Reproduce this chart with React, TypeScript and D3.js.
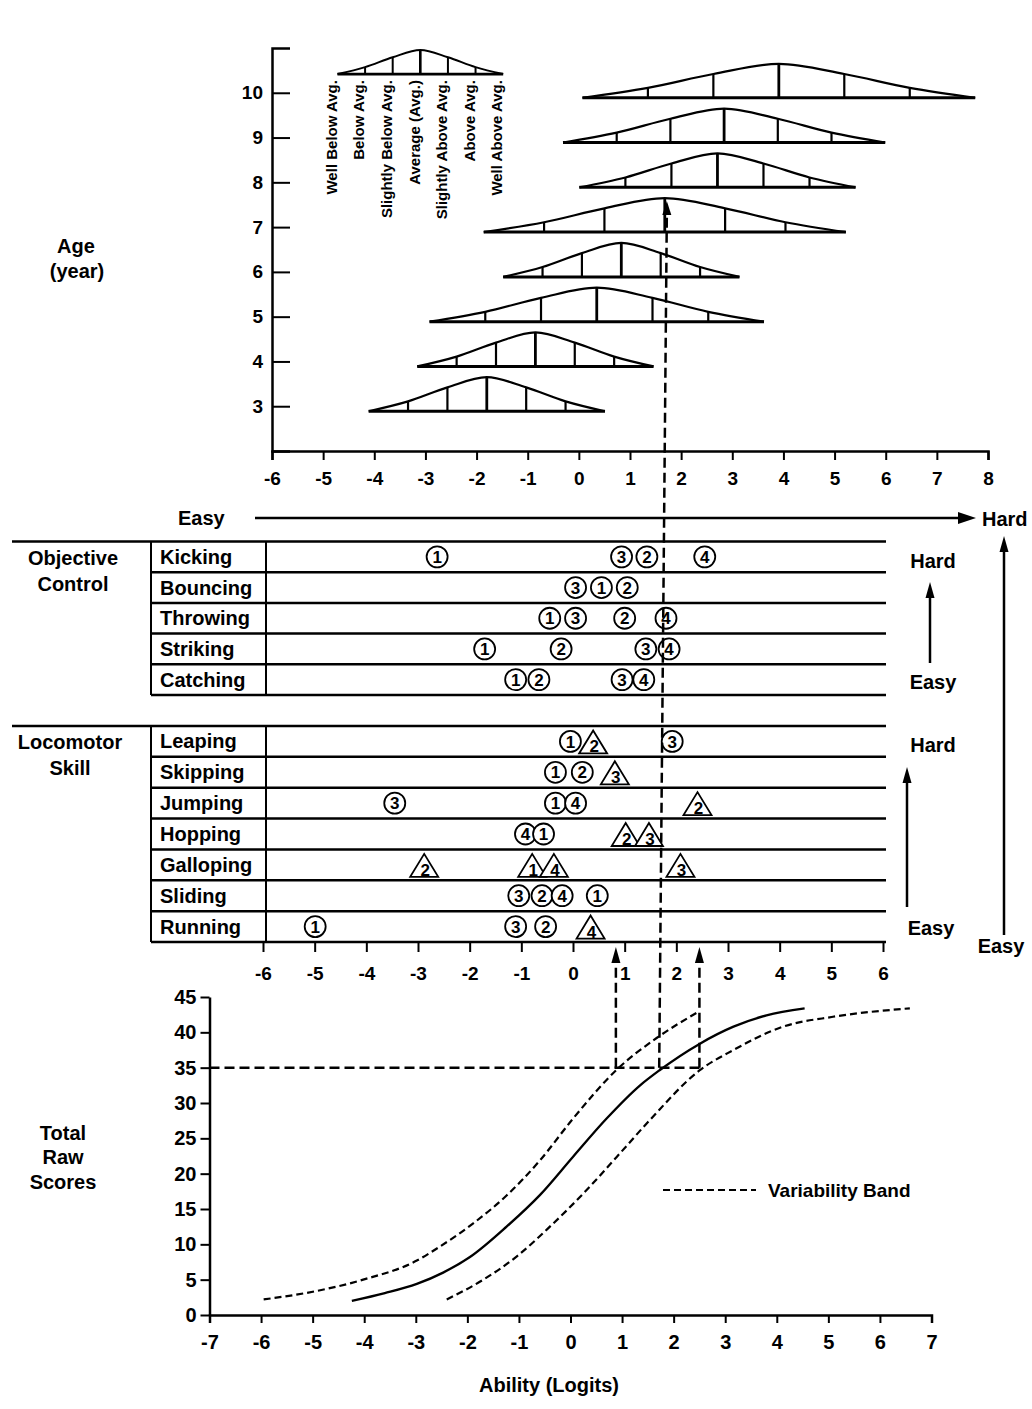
import { useEffect, useRef } from 'react';
import * as d3 from 'd3';

const FONT = '"Liberation Sans", Arial, Helvetica, sans-serif';

// ---- top panel: ability distribution per age ----
const ages = [3, 4, 5, 6, 7, 8, 9, 10];
const ageMeans = [-1.8, -0.85, 0.35, 0.83, 1.68, 2.71, 2.84, 3.91];
const ageSDs = [0.77, 0.77, 1.09, 0.77, 1.18, 0.9, 1.05, 1.28];
const topTicks = [-6, -5, -4, -3, -2, -1, 0, 1, 2, 3, 4, 5, 6, 7, 8];

// relative curve height at -3..+3 SD, as drawn in the figure
const sdSteps = [-3, -2, -1, 0, 1, 2, 3];
const sdHeights = [0, 0.29, 0.7, 1, 0.7, 0.29, 0];

const legendMean = -3.1;
const legendSD = 0.54;
const legendLabels = [
  'Well Below Avg.',
  'Below Avg.',
  'Slightly Below Avg.',
  'Average (Avg.)',
  'Slightly Above Avg.',
  'Above Avg.',
  'Well Above Avg.',
];

// ---- middle panel: item difficulty per skill ----
const objectiveSkills = ['Kicking', 'Bouncing', 'Throwing', 'Striking', 'Catching'];
const locomotorSkills = ['Leaping', 'Skipping', 'Jumping', 'Hopping', 'Galloping', 'Sliding', 'Running'];
const skillTicks = [-6, -5, -4, -3, -2, -1, 0, 1, 2, 3, 4, 5, 6];

interface Mark {
  skill: string
  n: number
  logit: number
  tri?: boolean
}

const objectiveMarks: Mark[] = [
  { skill: 'Kicking', n: 1, logit: -2.63 },
  { skill: 'Kicking', n: 3, logit: 0.94 },
  { skill: 'Kicking', n: 2, logit: 1.43 },
  { skill: 'Kicking', n: 4, logit: 2.55 },
  { skill: 'Bouncing', n: 3, logit: 0.05 },
  { skill: 'Bouncing', n: 1, logit: 0.55 },
  { skill: 'Bouncing', n: 2, logit: 1.05 },
  { skill: 'Throwing', n: 1, logit: -0.45 },
  { skill: 'Throwing', n: 3, logit: 0.05 },
  { skill: 'Throwing', n: 2, logit: 1.0 },
  { skill: 'Throwing', n: 4, logit: 1.8 },
  { skill: 'Striking', n: 1, logit: -1.71 },
  { skill: 'Striking', n: 2, logit: -0.23 },
  { skill: 'Striking', n: 3, logit: 1.41 },
  { skill: 'Striking', n: 4, logit: 1.86 },
  { skill: 'Catching', n: 1, logit: -1.11 },
  { skill: 'Catching', n: 2, logit: -0.66 },
  { skill: 'Catching', n: 3, logit: 0.95 },
  { skill: 'Catching', n: 4, logit: 1.37 },
];

const locomotorMarks: Mark[] = [
  { skill: 'Leaping', n: 1, logit: -0.05 },
  { skill: 'Leaping', n: 2, logit: 0.39, tri: true },
  { skill: 'Leaping', n: 3, logit: 1.92 },
  { skill: 'Skipping', n: 1, logit: -0.34 },
  { skill: 'Skipping', n: 2, logit: 0.18 },
  { skill: 'Skipping', n: 3, logit: 0.81, tri: true },
  { skill: 'Jumping', n: 3, logit: -3.45 },
  { skill: 'Jumping', n: 1, logit: -0.34 },
  { skill: 'Jumping', n: 4, logit: 0.05 },
  { skill: 'Jumping', n: 2, logit: 2.41, tri: true },
  { skill: 'Hopping', n: 4, logit: -0.92 },
  { skill: 'Hopping', n: 1, logit: -0.57 },
  { skill: 'Hopping', n: 2, logit: 1.02, tri: true },
  { skill: 'Hopping', n: 3, logit: 1.47, tri: true },
  { skill: 'Galloping', n: 2, logit: -2.88, tri: true },
  { skill: 'Galloping', n: 1, logit: -0.79, tri: true },
  { skill: 'Galloping', n: 4, logit: -0.37, tri: true },
  { skill: 'Galloping', n: 3, logit: 2.08, tri: true },
  { skill: 'Sliding', n: 3, logit: -1.05 },
  { skill: 'Sliding', n: 2, logit: -0.6 },
  { skill: 'Sliding', n: 4, logit: -0.21 },
  { skill: 'Sliding', n: 1, logit: 0.47 },
  { skill: 'Running', n: 1, logit: -4.99 },
  { skill: 'Running', n: 3, logit: -1.11 },
  { skill: 'Running', n: 2, logit: -0.53 },
  { skill: 'Running', n: 4, logit: 0.34, tri: true },
];

// ---- bottom panel: raw score vs ability ----
const curveLogit = [-4.24, -3.6, -2.98, -2.47, -1.95, -1.24, -0.59, 0.05, 0.7, 1.35, 1.72, 2.51, 3.16, 3.8, 4.54];
const curveScore = [2.0, 3.1, 4.4, 6.0, 8.2, 12.5, 17.0, 22.4, 27.8, 32.5, 34.6, 38.4, 40.8, 42.4, 43.4];
const upperLogit = [-5.95, -4.92, -4.02, -2.98, -2.53, -1.88, -1.24, -0.59, 0.05, 0.88, 1.67, 2.48];
const upperScore = [2.2, 3.4, 5.0, 7.7, 9.7, 13.0, 16.9, 21.9, 27.8, 34.6, 39.2, 42.9];
const lowerLogit = [-2.4, -1.69, -1.04, -0.4, 0.25, 0.9, 1.54, 2.5, 3.16, 4.12, 5.09, 6.58];
const lowerScore = [2.2, 5.0, 8.3, 12.5, 17.2, 22.4, 27.6, 34.6, 37.5, 40.8, 42.2, 43.4];
const scoreTicks = [0, 5, 10, 15, 20, 25, 30, 35, 40, 45];
const abilityTicks = [-7, -6, -5, -4, -3, -2, -1, 0, 1, 2, 3, 4, 5, 6, 7];

const cutScore = 35;
const cutLow = 0.88;
const cutMid = 1.72;
const cutHigh = 2.5;

type G = d3.Selection<SVGGElement, unknown, null, undefined>;

const plain = (d: d3.NumberValue) => String(d);

const styleAxis = (g: G, size: number) => {
  g.attr('font-family', FONT).attr('font-size', size).attr('font-weight', 'bold');
  g.selectAll('path.domain').attr('stroke-width', 2.5);
  g.selectAll('.tick line').attr('stroke-width', 2);
};

const arrowUp = (g: G, x: number, yTip: number, w: number, h: number) => {
  g.append('path')
    .attr('d', `M${x},${yTip} L${x - w / 2},${yTip + h} L${x + w / 2},${yTip + h} Z`)
    .attr('fill', '#000');
};

const App = (): JSX.Element => {
  const svgRef = useRef<SVGSVGElement>(null);

  useEffect(() => {
    const svg = d3.select(svgRef.current);
    svg.selectAll('*').remove();
    const root = svg.append('g')
      .attr('font-family', FONT)
      .attr('font-weight', 'bold')
      .attr('fill', '#000') as unknown as G;

    const label = (x: number, y: number, txt: string, size = 20, anchor = 'middle') =>
      root.append('text')
        .attr('x', x).attr('y', y)
        .attr('text-anchor', anchor)
        .attr('font-size', size)
        .text(txt);

    // ================= top panel =================
    const xTop = d3.scaleLinear().domain([-6, 8]).range([272, 988]);
    const yAge = d3.scaleLinear().domain([2, 11]).range([451, 48]);
    const base = (a: number) => yAge(a) + 5;
    const peak = 34;

    const topAxisX = root.append('g')
      .attr('transform', `translate(0,${yAge(2)})`)
      .call(d3.axisBottom(xTop).tickValues(topTicks).tickFormat(plain)
        .tickSize(9).tickSizeOuter(9).tickPadding(12)) as unknown as G;
    styleAxis(topAxisX, 19);

    const topAxisY = root.append('g')
      .attr('transform', `translate(${xTop(-6)},0)`)
      .call(d3.axisLeft(yAge).tickValues(ages).tickFormat(plain)
        .tickSize(-18).tickSizeOuter(-18).tickPadding(9)) as unknown as G;
    styleAxis(topAxisY, 19);

    const distLine = d3.line<[number, number]>().curve(d3.curveMonotoneX);

    const drawDist = (mean: number, sd: number, yb: number, h: number, sw: number) => {
      const g = root.append('g').attr('fill', 'none').attr('stroke', '#000');
      const pts: [number, number][] = sdSteps.map((k, i) => [xTop(mean + k * sd), yb - sdHeights[i] * h]);
      g.append('path').attr('d', distLine(pts)).attr('stroke-width', sw);
      g.append('line')
        .attr('x1', pts[0][0]).attr('x2', pts[6][0])
        .attr('y1', yb).attr('y2', yb)
        .attr('stroke-width', sw + 0.8);
      pts.slice(1, 6).forEach((p, i) => {
        g.append('line')
          .attr('x1', p[0]).attr('x2', p[0])
          .attr('y1', yb).attr('y2', p[1])
          .attr('stroke-width', i === 2 ? sw + 0.6 : sw);
      });
    };

    ages.forEach((a, i) => drawDist(ageMeans[i], ageSDs[i], base(a), peak, 2.2));

    // key curve with its category labels
    const legendY = base(10.53);
    drawDist(legendMean, legendSD, legendY, 24, 2);
    legendLabels.forEach((t, i) => {
      const x = xTop(legendMean + sdSteps[i] * legendSD) - 6;
      root.append('text')
        .attr('transform', `translate(${x},${legendY + 6}) rotate(-90)`)
        .attr('text-anchor', 'end')
        .attr('dy', '0.35em')
        .attr('font-size', 15)
        .text(t);
    });

    label(76, 253, 'Age');
    label(77, 278, '(year)');

    // Easy -> Hard arrow
    label(178, 525, 'Easy', 20, 'start');
    root.append('line')
      .attr('x1', 255).attr('x2', 962).attr('y1', 518).attr('y2', 518)
      .attr('stroke', '#000').attr('stroke-width', 2.5);
    root.append('path').attr('d', 'M976,518 L958,512 L958,524 Z').attr('fill', '#000');
    label(982, 526, 'Hard', 20, 'start');

    // ================= middle panel =================
    const xSkill = d3.scaleLinear().domain([-6, 6]).range([263, 883]);
    const yObj = d3.scaleBand().domain(objectiveSkills).range([541.5, 695]);
    const yLoc = d3.scaleBand().domain(locomotorSkills).range([726, 942]);
    const boxL = 151;
    const boxSep = 266;
    const rowR = 886;

    const drawGroup = (skills: string[], y: d3.ScaleBand<string>, marks: Mark[], title: string[], titleX: number) => {
      const g = root.append('g').attr('stroke', '#000');
      const [y0, y1] = y.range();
      g.append('line').attr('x1', 12).attr('x2', rowR).attr('y1', y0).attr('y2', y0).attr('stroke-width', 2.5);
      skills.forEach(s => {
        const yb = (y(s) ?? 0) + y.bandwidth();
        g.append('line').attr('x1', boxL).attr('x2', rowR).attr('y1', yb).attr('y2', yb).attr('stroke-width', 2.5);
        label(160, (y(s) ?? 0) + y.bandwidth() / 2 + 7, s, 20, 'start');
      });
      g.append('line').attr('x1', boxL).attr('x2', boxL).attr('y1', y0).attr('y2', y1).attr('stroke-width', 2);
      g.append('line').attr('x1', boxSep).attr('x2', boxSep).attr('y1', y0).attr('y2', y1).attr('stroke-width', 2);

      title.forEach((t, i) => label(titleX, y0 + 23 + i * 26, t));

      const mg = root.append('g');
      marks.forEach(m => {
        const cx = xSkill(m.logit);
        const cy = (y(m.skill) ?? 0) + y.bandwidth() / 2;
        if (m.tri) {
          mg.append('path')
            .attr('d', `M${cx},${cy - 11} L${cx - 14},${cy + 12} L${cx + 14},${cy + 12} Z`)
            .attr('fill', '#fff').attr('stroke', '#000').attr('stroke-width', 1.8);
          mg.append('text').attr('x', cx + 1).attr('y', cy + 11)
            .attr('text-anchor', 'middle').attr('font-size', 17).text(m.n);
        } else {
          mg.append('circle').attr('cx', cx).attr('cy', cy).attr('r', 10.5)
            .attr('fill', '#fff').attr('stroke', '#000').attr('stroke-width', 1.8);
          mg.append('text').attr('x', cx).attr('y', cy).attr('dy', '0.36em')
            .attr('text-anchor', 'middle').attr('font-size', 17).text(m.n);
        }
      });
    };

    drawGroup(objectiveSkills, yObj, objectiveMarks, ['Objective', 'Control'], 73);
    drawGroup(locomotorSkills, yLoc, locomotorMarks, ['Locomotor', 'Skill'], 70);

    const skillAxis = root.append('g')
      .attr('transform', `translate(0,${yLoc.range()[1]})`)
      .call(d3.axisBottom(xSkill).tickValues(skillTicks).tickFormat(plain)
        .tickSize(10).tickSizeOuter(0).tickPadding(15)) as unknown as G;
    styleAxis(skillAxis, 19);
    skillAxis.select('path.domain').remove();

    // Hard / Easy guides on the right
    const rg = root.append('g');
    label(933, 568, 'Hard');
    rg.append('line').attr('x1', 930).attr('x2', 930).attr('y1', 663).attr('y2', 596).attr('stroke', '#000').attr('stroke-width', 2.5);
    arrowUp(rg, 930, 582, 9, 16);
    label(933, 689, 'Easy');
    label(933, 752, 'Hard');
    rg.append('line').attr('x1', 907).attr('x2', 907).attr('y1', 907).attr('y2', 782).attr('stroke', '#000').attr('stroke-width', 2.5);
    arrowUp(rg, 907, 767, 9, 16);
    label(931, 935, 'Easy');
    rg.append('line').attr('x1', 1004).attr('x2', 1004).attr('y1', 935).attr('y2', 550).attr('stroke', '#000').attr('stroke-width', 2.5);
    arrowUp(rg, 1004, 536, 9, 16);
    label(1001, 953, 'Easy');

    // ================= bottom panel =================
    const xBot = d3.scaleLinear().domain([-7, 7]).range([209.5, 931.5]);
    const yBot = d3.scaleLinear().domain([0, 45]).range([1315, 997]);

    const botX = root.append('g')
      .attr('transform', `translate(0,${yBot(0)})`)
      .call(d3.axisBottom(xBot).tickValues(abilityTicks).tickFormat(plain)
        .tickSize(8).tickSizeOuter(8).tickPadding(12)) as unknown as G;
    styleAxis(botX, 20);
    const botY = root.append('g')
      .attr('transform', `translate(${xBot(-7)},0)`)
      .call(d3.axisLeft(yBot).tickValues(scoreTicks).tickFormat(plain)
        .tickSize(9).tickSizeOuter(0).tickPadding(4)) as unknown as G;
    styleAxis(botY, 20);

    const scoreLine = d3.line<[number, number]>()
      .x(d => xBot(d[0])).y(d => yBot(d[1]))
      .curve(d3.curveMonotoneX);
    const zip = (a: number[], b: number[]) => a.map((v, i) => [v, b[i]] as [number, number]);

    const cg = root.append('g').attr('fill', 'none').attr('stroke', '#000');
    cg.append('path').attr('d', scoreLine(zip(curveLogit, curveScore))).attr('stroke-width', 2.3);
    cg.append('path').attr('d', scoreLine(zip(upperLogit, upperScore))).attr('stroke-width', 2.2).attr('stroke-dasharray', '7,4');
    cg.append('path').attr('d', scoreLine(zip(lowerLogit, lowerScore))).attr('stroke-width', 2.2).attr('stroke-dasharray', '7,4');

    cg.append('line').attr('x1', 663).attr('x2', 756).attr('y1', 1190).attr('y2', 1190)
      .attr('stroke-width', 2.2).attr('stroke-dasharray', '7,4');
    label(768, 1197, 'Variability Band', 19, 'start');

    label(549, 1392, 'Ability (Logits)', 20);
    label(63, 1140, 'Total');
    label(63, 1164, 'Raw');
    label(63, 1189, 'Scores');

    // ================= dashed reading lines =================
    const dg = root.append('g').attr('fill', 'none').attr('stroke', '#000')
      .attr('stroke-width', 2.5).attr('stroke-dasharray', '10,5');
    const y35 = yBot(cutScore);
    dg.append('line').attr('x1', xBot(-7)).attr('x2', xBot(cutHigh)).attr('y1', y35).attr('y2', y35);
    const skillBottom = yLoc.range()[1];
    [cutLow, cutHigh].forEach(v => {
      dg.append('line').attr('x1', xBot(v)).attr('x2', xBot(v)).attr('y1', y35).attr('y2', skillBottom + 18);
      arrowUp(root, xBot(v), skillBottom + 5, 9, 16);
    });
    const age7 = ages.indexOf(7);
    const tipY = base(7) - peak + 3;
    dg.append('line')
      .attr('x1', xBot(cutMid)).attr('y1', y35)
      .attr('x2', xTop(cutMid)).attr('y2', tipY + 14);
    arrowUp(root, xTop(ageMeans[age7] + 0.04), tipY, 9, 14);
  }, []);

  return (
    <svg
      ref={svgRef}
      width={1032}
      height={1409}
      style={{ position: 'absolute', left: 0, top: 0, background: '#fff' }}
    />
  );
};

export default App;
